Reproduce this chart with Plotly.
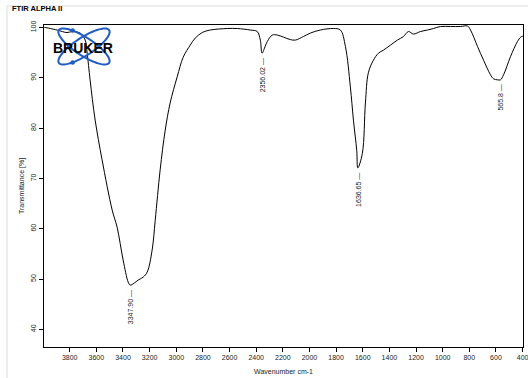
import numpy as np
import plotly.graph_objects as go

# ---- data ----
wavenumber = [3992, 3985, 3895, 3820, 3782, 3722, 3684, 3669, 3647, 3609, 3557, 3481, 3444, 3399,
              3361, 3346, 3316, 3286, 3248, 3218, 3181, 3158, 3121, 3083, 3046, 2993, 2948, 2895,
              2858, 2805, 2745, 2617, 2542, 2444, 2392, 2369, 2356, 2332, 2317, 2279, 2241, 2196,
              2144, 2106, 2046, 1993, 1918, 1821, 1768, 1730, 1693, 1670, 1645, 1637, 1603, 1580,
              1558, 1520, 1482, 1445, 1392, 1340, 1295, 1257, 1219, 1167, 1114, 1069, 1017, 941,
              866, 814, 791, 738, 693, 641, 618, 588, 566, 543, 491, 439, 414, 398]
transmittance = [100.0, 100.0, 99.5, 99.0, 99.2, 98.9, 97.5, 94.9, 89.6, 81.6, 73.7, 63.7, 60.3, 53.8,
                 49.4, 48.8, 49.2, 49.8, 50.4, 51.4, 55.8, 61.7, 71.7, 79.6, 85.0, 90.2, 94.1, 96.5,
                 97.9, 99.0, 99.5, 99.8, 99.8, 99.5, 99.2, 97.5, 94.9, 96.3, 97.2, 98.5, 98.5, 98.1,
                 97.6, 97.5, 98.2, 98.9, 99.5, 99.8, 99.5, 96.2, 88.2, 81.6, 75.5, 72.1, 75.0, 85.0,
                 91.0, 93.5, 94.9, 95.5, 96.5, 97.5, 98.2, 99.2, 98.7, 99.2, 99.5, 99.8, 100.2, 100.2,
                 100.2, 100.3, 99.5, 96.2, 93.5, 90.6, 89.8, 89.6, 89.6, 90.6, 94.2, 97.2, 98.1, 98.3]

peak_wn = [3347.90, 2356.02, 1636.65, 565.8]
peak_t = [48.8, 94.9, 72.1, 89.6]
peak_labels = ["3347.90", "2356.02", "1636.65", "565.8"]

x_ticks = list(range(3800, 399, -200))
y_ticks = [40, 50, 60, 70, 80, 90, 100]

FONT = "Liberation Sans, Arial, sans-serif"

fig = go.Figure()
fig.add_trace(go.Scatter(x=wavenumber, y=transmittance, mode="lines",
                         line=dict(color="black", width=1), line_shape="spline",
                         hoverinfo="skip", showlegend=False))

W, H = 528, 378
L, R, T, B = 44, 5, 25, 31
pw, ph = W - L - R, H - T - B

def px2paper(px, py):
    return (px - L) / pw, (H - B - py) / ph

shapes = []
annotations = []

# peak labels (rotated text with a leading dash as the marker)
for wn, tv, lab in zip(peak_wn, peak_t, peak_labels):
    text = lab + " \u2014"
    length = len(lab) * 3.9 + 2 + 7
    annotations.append(dict(x=wn, y=tv, xref="x", yref="y", text=text, showarrow=False,
                            textangle=-90, yshift=-(4 + length / 2), xanchor="center",
                            yanchor="middle",
                            font=dict(family=FONT, size=7, color="#222")))

# page border lines
x0p, y0p = px2paper(7, 6)
x1p, y1p = px2paper(528, 378)
shapes.append(dict(type="line", xref="paper", yref="paper", x0=x0p, x1=x0p, y0=y0p, y1=y1p,
                   line=dict(color="#dcdcdc", width=1), layer="below"))
shapes.append(dict(type="line", xref="paper", yref="paper", x0=x0p, x1=x1p, y0=y0p, y1=y0p,
                   line=dict(color="#dcdcdc", width=1), layer="below"))

# Bruker logo (decorative)
cx, cy, a, b = 84, 46.5, 30, 9
t = np.linspace(0, 2 * np.pi, 60)
for ang in (33, -33):
    th = np.radians(ang)
    ex = cx + a * np.cos(t) * np.cos(th) - b * np.sin(t) * np.sin(th)
    ey = cy + a * np.cos(t) * np.sin(th) + b * np.sin(t) * np.cos(th)
    pts = [px2paper(u, v) for u, v in zip(ex, ey)]
    path = "M " + " L ".join(f"{p[0]:.4f},{p[1]:.4f}" for p in pts) + " Z"
    shapes.append(dict(type="path", xref="paper", yref="paper", path=path,
                       line=dict(color="#1f5cc4", width=2)))
for dx, dy in [(72.7, 30.5), (72.7, 62.5)]:
    p0 = px2paper(dx - 2.2, dy - 2.2)
    p1 = px2paper(dx + 2.2, dy + 2.2)
    shapes.append(dict(type="circle", xref="paper", yref="paper", x0=p0[0], x1=p1[0],
                       y0=p0[1], y1=p1[1], fillcolor="#1f5cc4", line=dict(width=0)))
lx, ly = px2paper(83, 47.5)
annotations.append(dict(x=lx, y=ly, xref="paper", yref="paper", text="<b>BRUKER</b>",
                        showarrow=False, xanchor="center", yanchor="middle",
                        font=dict(family=FONT, size=14, color="black")))

# title
tx, ty = px2paper(10, 9)
annotations.append(dict(x=tx, y=ty, xref="paper", yref="paper", text="<b>FTIR ALPHA II</b>",
                        showarrow=False, xanchor="left", yanchor="middle",
                        font=dict(family=FONT, size=7.5, color="black")))

fig.update_layout(
    width=W, height=H,
    margin=dict(l=L, r=R, t=T, b=B, autoexpand=False),
    paper_bgcolor="white", plot_bgcolor="white",
    shapes=shapes, annotations=annotations,
    font=dict(family=FONT, size=7, color="#222"),
    xaxis=dict(range=[3993, 397], tickvals=x_ticks, ticktext=[str(v) for v in x_ticks],
               ticks="outside", ticklen=4, tickcolor="black", showgrid=False, zeroline=False,
               showline=True, linecolor="black", linewidth=1, mirror=True, automargin=False,
               ticklabeloverflow="allow",
               title=dict(text="Wavenumber cm-1", font=dict(size=7), standoff=8),
               tickfont=dict(size=7)),
    yaxis=dict(range=[36.5, 100.5], tickvals=y_ticks, ticks="outside", ticklen=4,
               tickcolor="black", showgrid=False, zeroline=False, tickangle=-90,
               showline=True, linecolor="black", linewidth=1, mirror=True, automargin=False,
               title=dict(text="Transmittance [%]", font=dict(size=7), standoff=4),
               tickfont=dict(size=7)),
)

fig.write_html("out.html", config={"displayModeBar": False},
               post_script="document.body.style.margin='0';document.body.style.overflow='hidden';")
